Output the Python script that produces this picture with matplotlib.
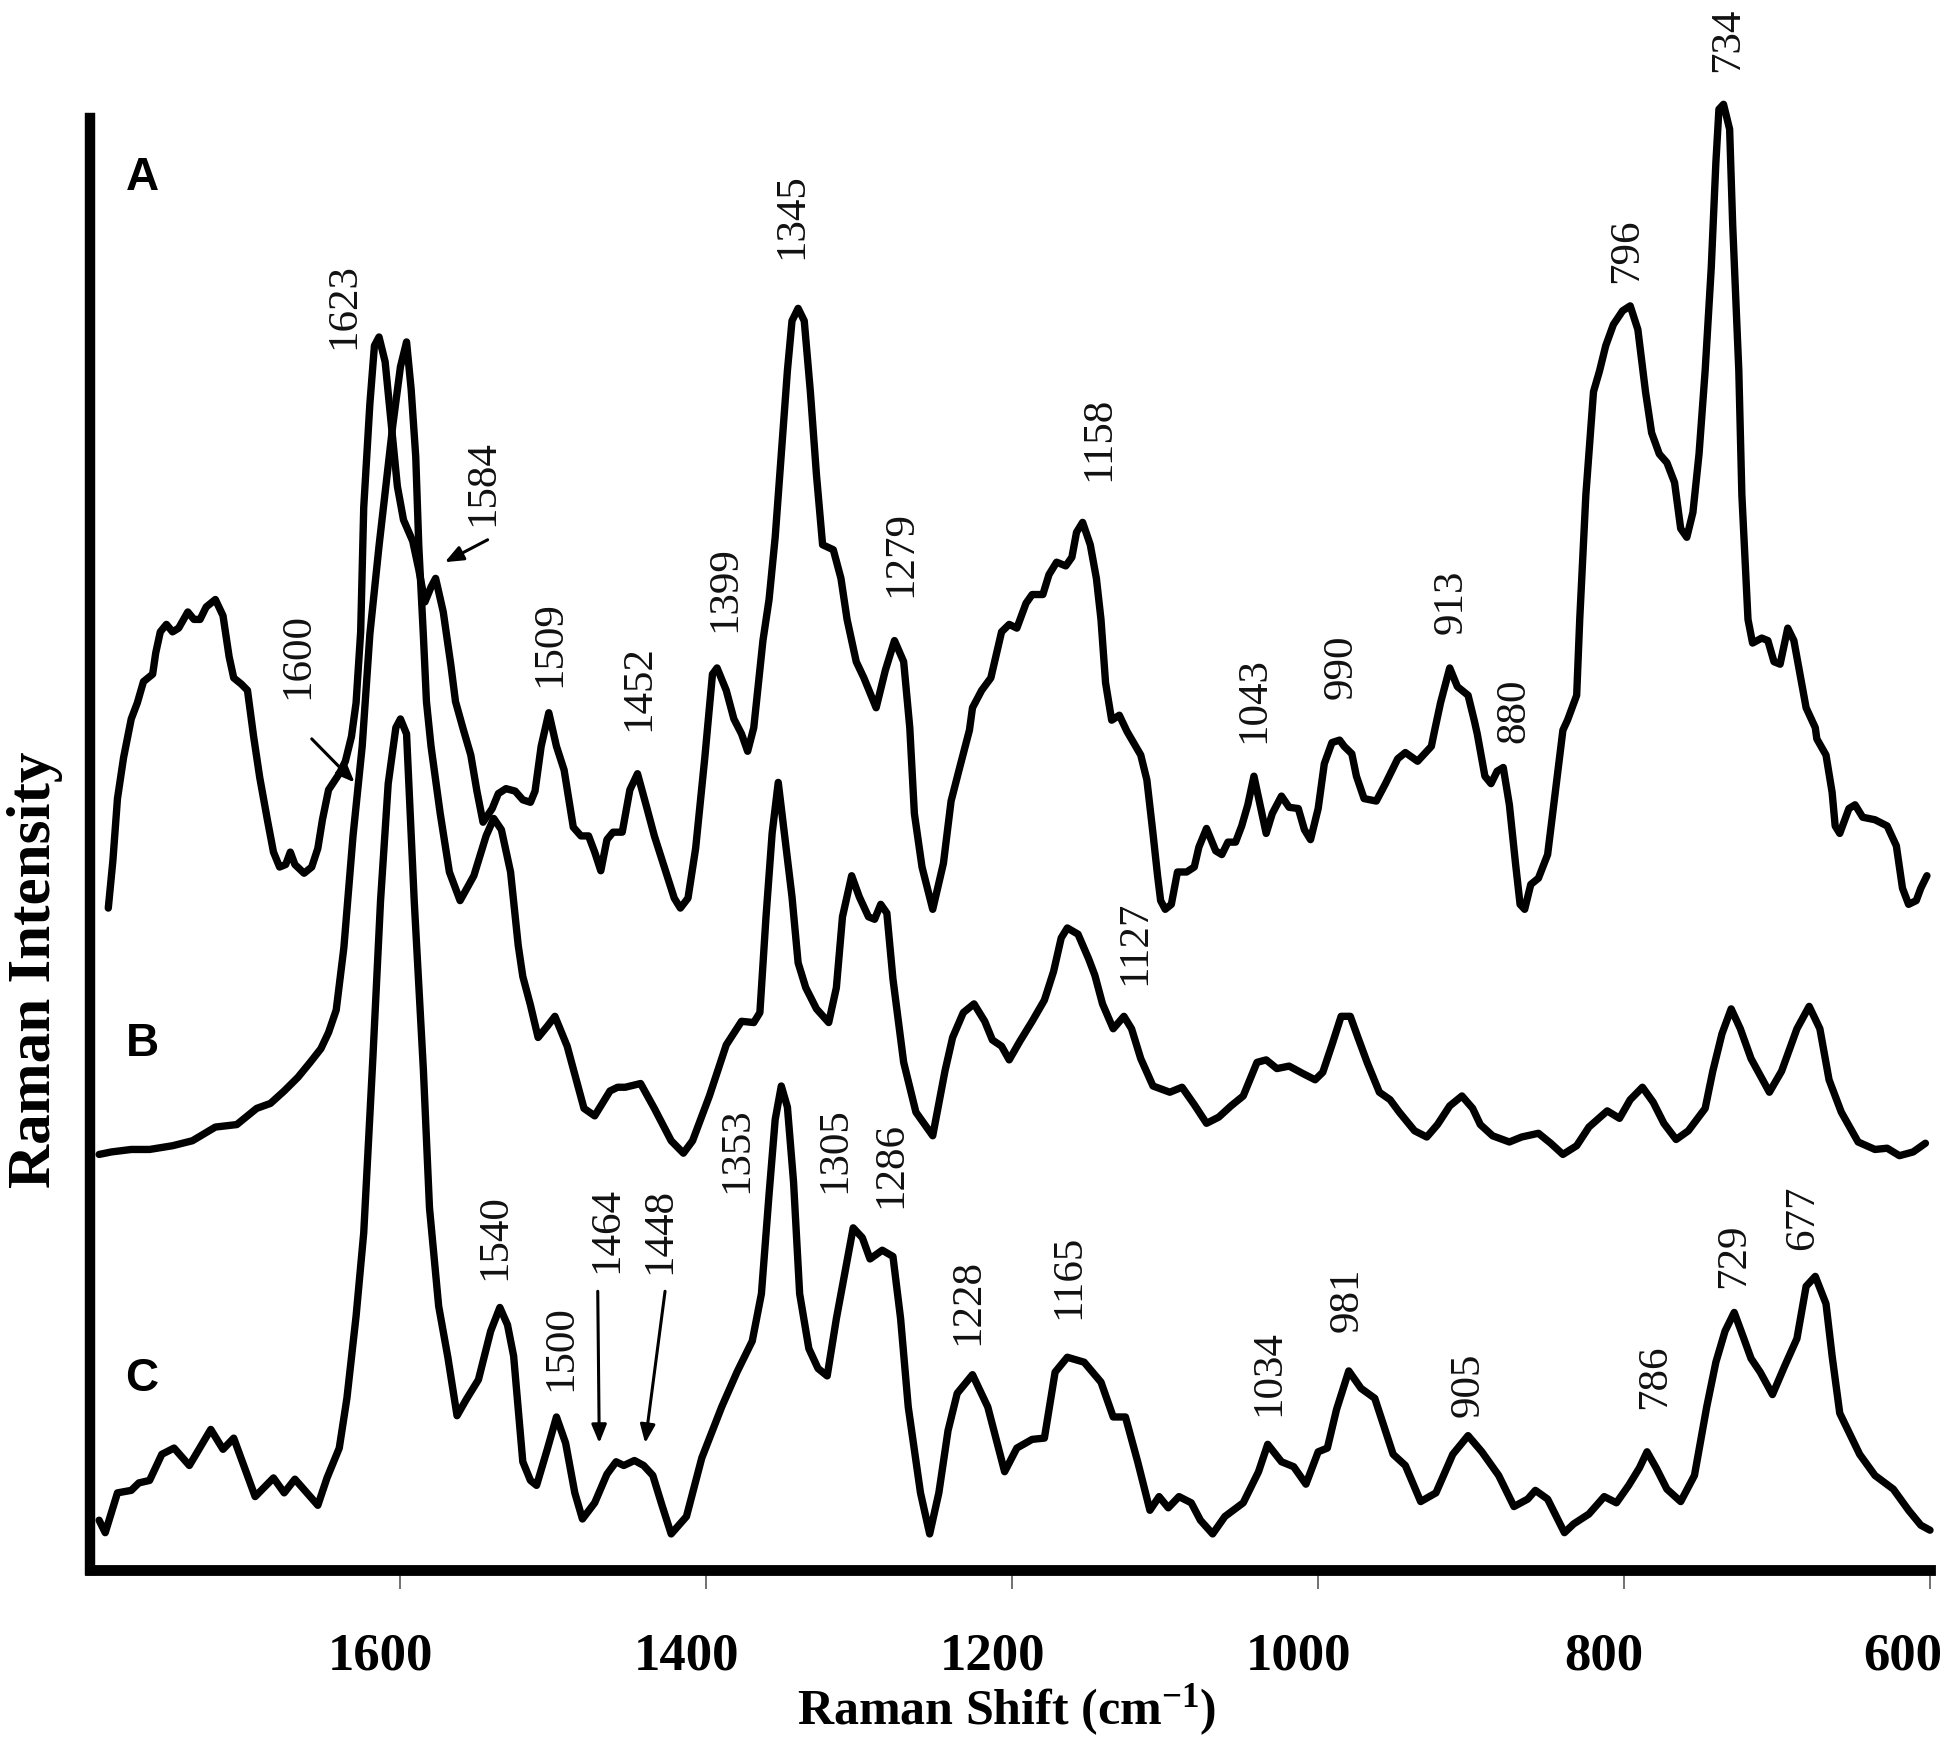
import matplotlib
matplotlib.use('Agg')
import matplotlib.transforms as mtransforms
from matplotlib import pyplot as plt

plt.rcParams['mathtext.fontset'] = 'custom'
plt.rcParams['mathtext.rm'] = 'Liberation Serif:bold'
plt.rcParams['mathtext.bf'] = 'Liberation Serif:bold'
plt.rcParams['mathtext.default'] = 'rm'

# spectrum A (top)
a_shift = [1791, 1788, 1785, 1781, 1776, 1772, 1768, 1762, 1760, 1757, 1753, 1749, 1745, 1739, 1735,
           1731, 1727, 1721, 1716, 1712, 1709, 1704, 1700, 1696, 1692, 1687, 1683, 1679, 1675, 1672,
           1669, 1663, 1658, 1654, 1651, 1647, 1640, 1636, 1632, 1629, 1626, 1624, 1620, 1617, 1614,
           1610, 1606, 1602, 1598, 1592, 1588, 1584, 1580, 1577, 1572, 1567, 1564, 1559, 1554, 1550,
           1546, 1540, 1536, 1531, 1525, 1520, 1515, 1512, 1508, 1503, 1498, 1493, 1487, 1482, 1477,
           1473, 1469, 1465, 1461, 1455, 1450, 1445, 1439, 1434, 1427, 1421, 1417, 1412, 1407, 1401,
           1396, 1393, 1387, 1382, 1377, 1373, 1369, 1363, 1359, 1355, 1351, 1347, 1344, 1340, 1336,
           1332, 1328, 1324, 1317, 1312, 1308, 1302, 1297, 1289, 1283, 1277, 1271, 1267, 1264, 1259,
           1252, 1245, 1240, 1235, 1228, 1226, 1220, 1214, 1211, 1207, 1202, 1197, 1191, 1187, 1180,
           1176, 1171, 1165, 1161, 1158, 1154, 1149, 1145, 1142, 1139, 1135, 1130, 1125, 1116, 1112,
           1108, 1105, 1103, 1100, 1096, 1092, 1086, 1081, 1078, 1073, 1067, 1063, 1059, 1054, 1050,
           1046, 1042, 1038, 1034, 1030, 1024, 1019, 1013, 1009, 1005, 1000, 996, 991, 986, 983,
           978, 975, 970, 962, 956, 948, 943, 935, 926, 924, 920, 914, 909, 902, 898,
           896, 891, 887, 883, 879, 875, 871, 868, 865, 861, 856, 850, 845, 840, 837,
           831, 829, 825, 820, 816, 812, 807, 801, 796, 791, 786, 782, 777, 772, 767,
           763, 759, 755, 751, 747, 743, 740, 738, 735, 731, 729, 725, 723, 719, 716,
           710, 706, 702, 698, 693, 689, 685, 681, 675, 674, 668, 664, 662, 659, 653,
           649, 644, 636, 628, 622, 618, 614, 609, 606, 602]
a_int = [532, 570, 620, 653, 684, 697, 714, 720, 737, 754, 760, 754, 757, 770, 764,
         764, 774, 780, 767, 734, 717, 712, 707, 670, 637, 603, 577, 565, 567, 577,
         567, 560, 565, 580, 603, 627, 640, 650, 670, 697, 754, 854, 937, 984, 991,
         971, 921, 871, 844, 827, 804, 778, 790, 797, 770, 727, 698, 676, 655, 626,
         601, 612, 624, 628, 626, 619, 617, 626, 662, 689, 662, 643, 597, 590, 590,
         577, 562, 587, 593, 593, 627, 640, 613, 590, 563, 540, 532, 540, 580, 653,
         720, 725, 707, 684, 672, 658, 677, 747, 780, 830, 897, 964, 1004, 1014, 1004,
         947, 880, 824, 820, 797, 764, 730, 717, 693, 723, 747, 730, 677, 608, 565,
         531, 568, 618, 642, 675, 693, 707, 717, 733, 754, 760, 757, 777, 784, 784,
         800, 810, 807, 814, 834, 842, 824, 797, 764, 713, 683, 687, 674, 655, 635,
         592, 558, 538, 531, 535, 561, 561, 565, 581, 596, 578, 575, 585, 585, 598,
         615, 638, 615, 592, 608, 622, 613, 612, 595, 587, 612, 648, 665, 667, 662,
         656, 638, 620, 618, 632, 652, 657, 650, 662, 674, 697, 725, 710, 703, 683,
         672, 638, 632, 642, 645, 615, 568, 535, 531, 551, 556, 575, 625, 675, 683,
         703, 764, 864, 947, 964, 984, 1001, 1012, 1016, 997, 947, 914, 897, 890, 874,
         837, 830, 850, 897, 964, 1047, 1131, 1174, 1178, 1158, 1081, 964, 864, 764, 745,
         749, 747, 730, 728, 757, 747, 720, 693, 677, 668, 655, 625, 598, 592, 612,
         615, 605, 603, 598, 582, 548, 535, 538, 548, 558]

# spectrum B (middle)
b_shift = [1797, 1789, 1776, 1764, 1749, 1736, 1721, 1707, 1694, 1685, 1676, 1667, 1659, 1652, 1647,
           1642, 1637, 1631, 1625, 1620, 1614, 1609, 1605, 1600, 1596, 1593, 1590, 1588, 1585, 1583,
           1580, 1574, 1568, 1561, 1552, 1544, 1539, 1534, 1528, 1523, 1520, 1515, 1510, 1504, 1499,
           1491, 1480, 1473, 1463, 1458, 1453, 1443, 1434, 1423, 1415, 1409, 1398, 1387, 1377, 1369,
           1365, 1361, 1357, 1353, 1349, 1344, 1340, 1335, 1328, 1320, 1315, 1311, 1305, 1300, 1294,
           1290, 1286, 1282, 1278, 1271, 1263, 1252, 1244, 1239, 1232, 1225, 1218, 1213, 1207, 1202,
           1195, 1187, 1179, 1173, 1168, 1164, 1157, 1150, 1146, 1141, 1134, 1127, 1122, 1116, 1108,
           1097, 1089, 1081, 1073, 1065, 1057, 1049, 1040, 1034, 1027, 1019, 1010, 1002, 997, 991,
           985, 979, 974, 968, 960, 953, 947, 937, 929, 922, 914, 906, 899, 894, 886,
           875, 867, 856, 848, 840, 831, 823, 811, 803, 796, 788, 781, 774, 766, 758,
           747, 742, 736, 730, 724, 717, 705, 697, 687, 679, 672, 666, 658, 647, 636,
           628, 620, 611, 603]
b_int = [334, 336, 338, 338, 341, 345, 356, 358, 371, 375, 385, 396, 408, 419, 432,
         450, 500, 590, 662, 752, 823, 877, 920, 967, 987, 949, 895, 823, 751, 698,
         662, 608, 561, 538, 558, 590, 604, 595, 561, 502, 477, 454, 428, 437, 445,
         421, 371, 365, 385, 388, 388, 391, 371, 345, 335, 345, 381, 422, 441, 440,
         448, 525, 592, 633, 592, 541, 488, 468, 451, 440, 468, 525, 558, 541, 525,
         523, 535, 528, 475, 408, 368, 349, 401, 428, 448, 455, 441, 426, 421, 410,
         425, 441, 458, 481, 508, 516, 511, 491, 478, 455, 435, 445, 435, 411, 389,
         384, 388, 374, 359, 364, 373, 381, 408, 410, 403, 405, 399, 394, 400, 422,
         445, 445, 428, 408, 384, 378, 368, 353, 348, 358, 373, 381, 371, 358, 349,
         344, 348, 351, 343, 334, 341, 356, 369, 363, 378, 388, 376, 359, 346, 353,
         371, 401, 431, 451, 435, 411, 384, 401, 435, 453, 435, 394, 368, 344, 338,
         339, 333, 336, 343]

# spectrum C (bottom)
c_shift = [1797, 1793, 1785, 1776, 1771, 1764, 1756, 1748, 1738, 1724, 1716, 1709, 1701, 1695, 1683,
           1676, 1669, 1654, 1648, 1640, 1635, 1629, 1624, 1618, 1613, 1608, 1603, 1600, 1596, 1591,
           1585, 1581, 1575, 1569, 1563, 1557, 1549, 1541, 1535, 1530, 1526, 1520, 1515, 1511, 1504,
           1498, 1492, 1486, 1481, 1473, 1465, 1459, 1454, 1447, 1441, 1435, 1429, 1423, 1413, 1403,
           1390, 1380, 1370, 1364, 1359, 1355, 1351, 1347, 1343, 1339, 1333, 1327, 1321, 1315, 1309,
           1304, 1298, 1293, 1285, 1278, 1273, 1268, 1260, 1254, 1248, 1242, 1236, 1226, 1216, 1205,
           1197, 1187, 1179, 1172, 1164, 1153, 1142, 1134, 1126, 1118, 1110, 1104, 1098, 1091, 1083,
           1077, 1069, 1061, 1049, 1039, 1033, 1024, 1016, 1008, 1000, 994, 988, 980, 972, 963,
           951, 943, 933, 923, 912, 902, 893, 882, 872, 863, 858, 850, 839, 833, 823,
           813, 805, 797, 790, 785, 779, 772, 763, 754, 746, 740, 734, 728, 722, 717,
           711, 703, 695, 687, 681, 675, 668, 664, 659, 646, 636, 624, 614, 606, 600]
c_int = [40, 30, 62, 64, 70, 72, 93, 98, 84, 113, 97, 106, 79, 59, 74,
         62, 73, 52, 74, 98, 138, 204, 271, 412, 538, 632, 677, 684, 672, 538,
         402, 291, 212, 171, 124, 137, 153, 192, 211, 197, 172, 87, 72, 68, 97,
         123, 102, 62, 41, 54, 77, 87, 84, 88, 84, 76, 52, 29, 43, 90,
         131, 159, 184, 222, 302, 362, 389, 372, 312, 222, 178, 162, 156, 202, 242,
         275, 267, 250, 257, 252, 202, 131, 62, 29, 62, 112, 142, 157, 131, 79,
         98, 105, 106, 159, 171, 167, 151, 123, 123, 87, 48, 59, 50, 59, 54,
         40, 29, 43, 54, 79, 101, 87, 83, 69, 95, 98, 129, 160, 146, 138,
         93, 84, 55, 62, 93, 108, 95, 76, 51, 57, 64, 57, 30, 37, 45,
         59, 54, 68, 82, 95, 82, 65, 55, 76, 131, 167, 192, 207, 187, 170,
         159, 141, 164, 186, 228, 236, 214, 172, 126, 93, 76, 65, 48, 36, 32]

x_ticks = [1600, 1400, 1200, 1000, 800, 600]

# peak labels: text, shift, intensity at the foot of the text
peak_labels = ['1623', '1600', '1584', '1509', '1452', '1399', '1345', '1279', '1158', '1043',
               '990', '913', '880', '796', '734', '1127', '1540', '1500', '1464', '1448',
               '1353', '1305', '1286', '1228', '1165', '1034', '981', '905', '786', '729', '677']
peak_x = [1637, 1667, 1546, 1502, 1444, 1388, 1344, 1273, 1143, 1042,
          985, 913, 872, 798, 732, 1120, 1538, 1495, 1465, 1430,
          1380, 1316, 1279, 1229, 1163, 1032, 981, 902, 780, 728, 683]
peak_y = [981, 700, 839, 710, 674, 754, 1054, 782, 875, 665,
          700, 752, 665, 1034, 1204, 470, 233, 144, 239, 238,
          303, 303, 291, 181, 202, 124, 191, 123, 129, 227, 257]

# arrows: (tail shift, tail intensity) -> (tip shift, tip intensity)
arrow_from = [(1658, 668), (1543, 828), (1471, 224), (1427, 224)]
arrow_to = [(1630, 633), (1571, 810), (1470, 102), (1440, 102)]

panels = ['A', 'B', 'C']
panel_y = [1109, 413, 144]

fig = plt.figure(figsize=(19.46, 17.38), dpi=100)
ax = fig.add_axes([0.04645, 0.09666, 0.94533, 0.83545])

for xs, ys in [(a_shift, a_int), (b_shift, b_int), (c_shift, c_int)]:
    ax.plot(xs, ys, color='black', lw=5.3, clip_on=False,
            solid_joinstyle='round', solid_capstyle='round')

for t, x, y in zip(peak_labels, peak_x, peak_y):
    ax.text(x, y, t, rotation=90, ha='center', va='bottom', fontsize=31,
            family='Liberation Serif', color='#111111')

for (x0, y0), (x1, y1) in zip(arrow_from, arrow_to):
    ax.annotate('', xy=(x1, y1), xytext=(x0, y0),
                arrowprops=dict(arrowstyle='-|>,head_length=1.1,head_width=0.45',
                                lw=2.2, color='black', shrinkA=0, shrinkB=0))

for p, y in zip(panels, panel_y):
    ax.text(1769, y, p, ha='center', va='baseline', fontsize=33,
            family='Liberation Sans', fontweight='bold')

ax.set_xlim(1802.7, 600)
ax.set_ylim(0, 1167)
ax.set_xticks(x_ticks)
ax.set_xticklabels([str(v) for v in x_ticks], family='Liberation Serif',
                   fontweight='bold', fontsize=38)
ax.set_yticks([])
ax.tick_params(axis='x', direction='out', length=14, width=1.2, color='0.35', pad=31)
labels = ax.get_xticklabels()
for i, lab in enumerate(labels):
    shift = -0.27 if i == len(labels) - 1 else -0.2
    lab.set_transform(lab.get_transform() + mtransforms.ScaledTranslation(shift, 0, fig.dpi_scale_trans))

for side in ['top', 'right']:
    ax.spines[side].set_visible(False)
ax.spines['left'].set_linewidth(7.5)
ax.spines['bottom'].set_linewidth(7.8)

fig.text(1007 / 1946, 14 / 1738, 'Raman Shift (cm$^{-1}$)', ha='center', va='baseline',
         fontsize=36, family='Liberation Serif', fontweight='bold')
fig.text(50 / 1946, 1 - 970 / 1738, 'Raman Intensity', rotation=90, rotation_mode='anchor',
         ha='center', va='baseline', fontsize=44, family='Liberation Serif', fontweight='bold')

plt.savefig('out.png', dpi=100)
